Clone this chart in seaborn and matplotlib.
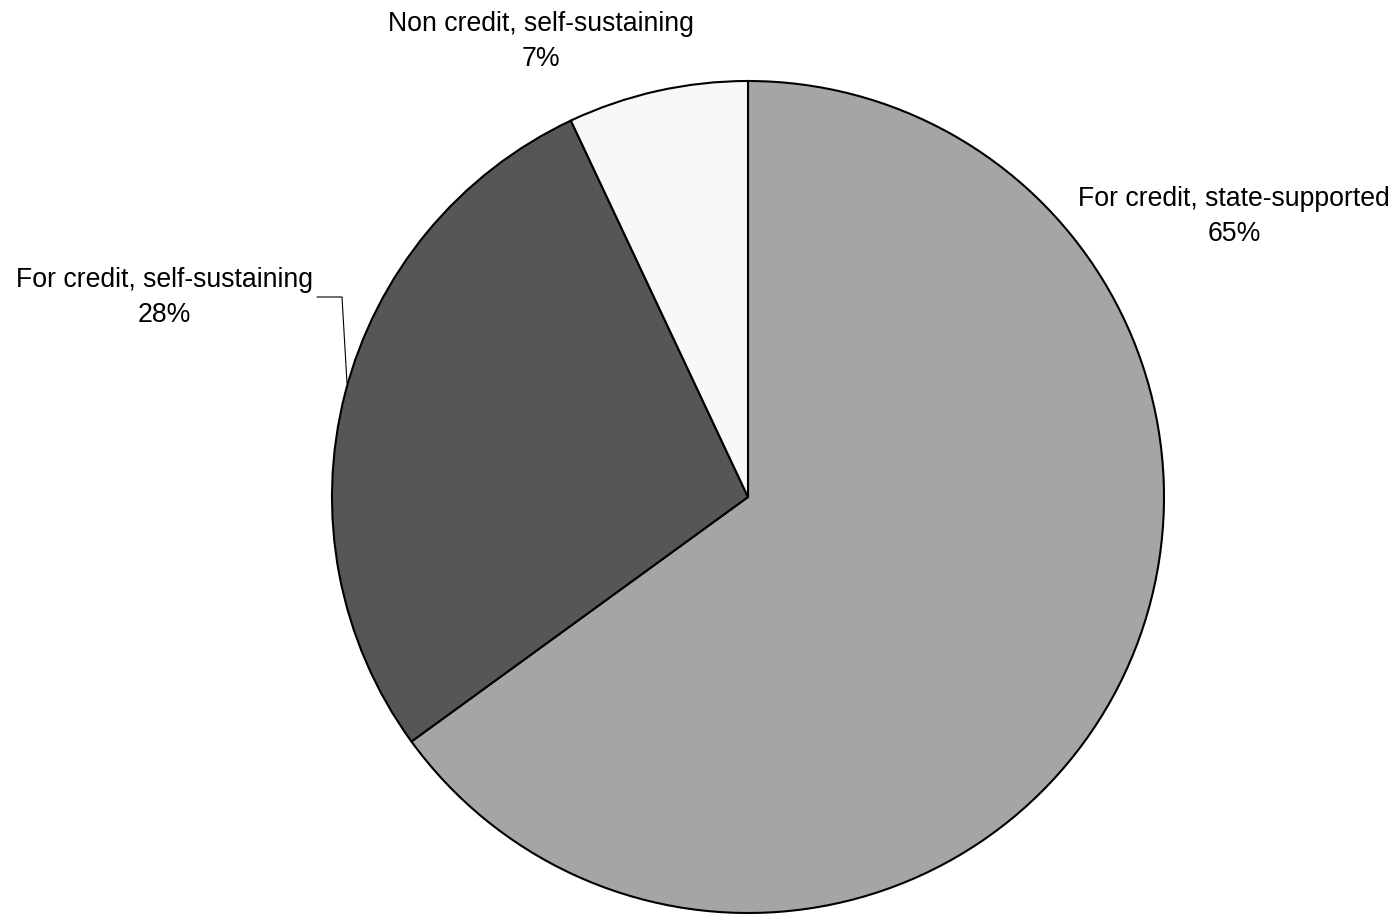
import matplotlib
matplotlib.use("Agg")
import matplotlib.pyplot as plt
from matplotlib import font_manager
import seaborn as sns

sns.set_theme(style="white")

# pick the regular (non-narrow) Liberation Sans face explicitly
LABEL_SIZE = 19.2
regular = [f for f in font_manager.findSystemFonts()
           if f.endswith("LiberationSans-Regular.ttf")]
if regular:
    label_font = dict(fontproperties=font_manager.FontProperties(fname=regular[0], size=LABEL_SIZE))
else:
    label_font = dict(family=["Liberation Sans", "DejaVu Sans"], fontsize=LABEL_SIZE)

categories = ["For credit, state-supported", "For credit, self-sustaining", "Non credit, self-sustaining"]
shares = [65, 28, 7]
colors = ["#a5a5a5", "#565656", "#f8f8f8"]

W, H = 1399, 914
cx, cy, R = 748, 497, 416

fig = plt.figure(figsize=(W / 100, H / 100), dpi=100)
ax = fig.add_axes([0, 0, 1, 1])
ax.pie(shares, colors=colors, startangle=90, counterclock=False, radius=1,
       wedgeprops=dict(edgecolor="black", linewidth=1.5))
ax.set_xlim(-cx / R, (W - cx) / R)
ax.set_ylim(-(H - cy) / R, cy / R)
ax.set_aspect("equal")
ax.axis("off")


def px(x, y):
    return (x - cx) / R, (cy - y) / R


label_pos = [(1234, 216), (164, 297), (541, 41)]
for name, val, (lx, ly) in zip(categories, shares, label_pos):
    ax.text(*px(lx, ly), f"{name}\n{val}%", ha="center", va="center",
            color="black", linespacing=1.45, **label_font)

# leader line for the left label
pts = [px(317, 297), px(342, 297), px(347, 383)]
ax.plot([p[0] for p in pts], [p[1] for p in pts], color="black", linewidth=0.8)

fig.savefig("out.png", dpi=100)
